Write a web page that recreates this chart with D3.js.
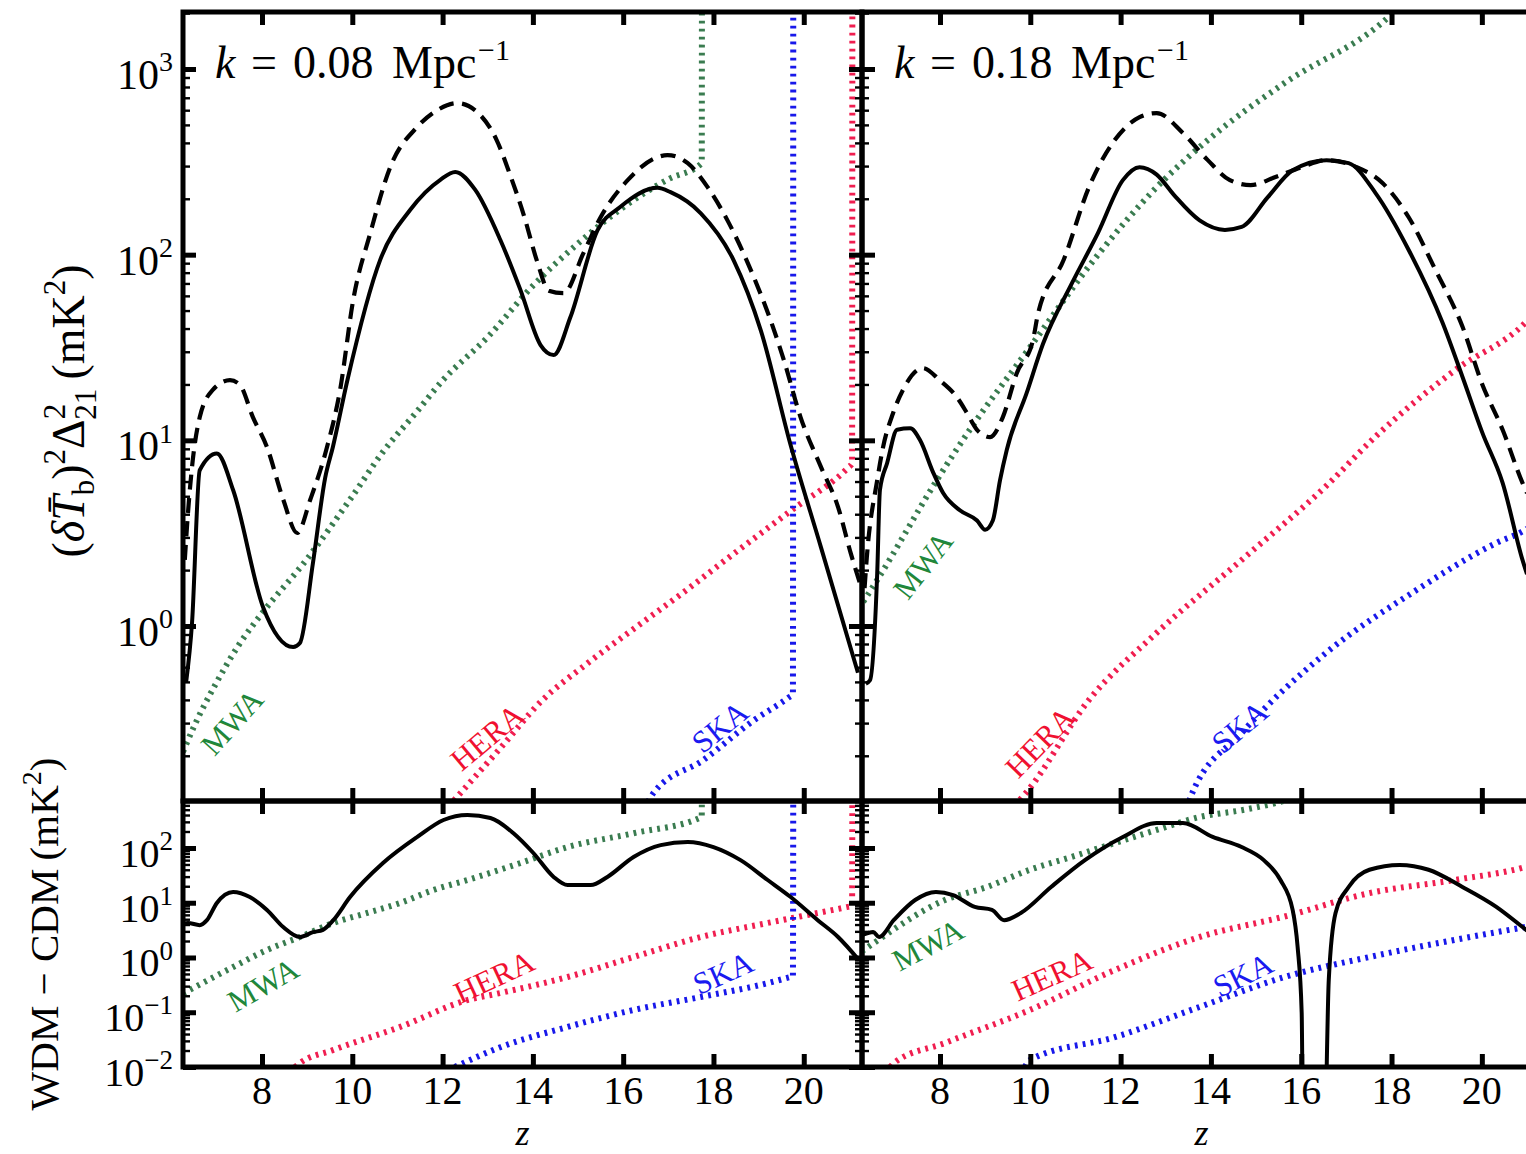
<!DOCTYPE html>
<html><head><meta charset="utf-8">
<script src="https://cdn.jsdelivr.net/npm/d3@7"></script>
<style>
body{margin:0;background:#fff}
svg{display:block}
text{font-family:"Liberation Serif","Times New Roman","DejaVu Serif",serif;fill:#000}
</style>
</head><body>
<svg id="c" width="1526" height="1154" font-family="Liberation Serif, Times New Roman, serif"></svg>
<script>
// ---------------- DATA ([z, value]) ----------------
const xTickValues = [8, 10, 12, 14, 16, 18, 20];
const topExponents = [0, 1, 2, 3];
const bottomExponents = [-2, -1, 0, 1, 2];
const panelTitles = ["0.08", "0.18"];
const instrumentNames = ["MWA", "HERA", "SKA"];

// k = 0.08, upper panel
const leftTopSolid = [[6.32,0.5],[6.45,1.04],[6.62,6.9],[7.0,8.5],[7.36,5.4],[8.02,1.27],[8.69,0.77],[8.84,0.81],[9.13,2.2],[9.40,6.3],[9.57,9.2],[9.89,21],[10.62,94],[11.28,174],[11.95,253],[12.28,279],[12.72,224],[13.28,120],[13.72,65],[14.17,32.6],[14.46,28.8],[14.83,46],[15.43,135],[15.94,181],[16.76,229],[17.05,217],[17.72,167],[18.45,93],[19.05,39],[19.71,9.4],[20.38,2.66],[21.2,0.56]];
const leftTopDashed = [[6.29,2.27],[6.36,4.06],[6.45,7.2],[6.62,13.3],[6.91,18.7],[7.29,21.1],[7.51,19.9],[7.80,13.3],[8.11,9.2],[8.47,4.8],[8.78,3.17],[9.07,4.8],[9.44,9.2],[9.73,18.7],[10.02,57],[10.40,131],[10.84,296],[11.44,488],[11.88,600],[12.33,655],[12.77,585],[13.2,413],[13.5,267],[13.8,163],[14.1,91],[14.35,64],[14.68,62],[15.12,102],[15.50,159],[16.10,252],[16.76,335],[16.98,344],[17.43,311],[17.87,231],[18.31,153],[18.89,76],[19.27,44],[19.56,27],[19.93,13.3],[20.38,7.2],[20.76,4.37],[21.04,2.47],[21.27,1.62]];
const leftTopMWA = [[6.25,0.21],[6.5,0.29],[7.0,0.5],[7.5,0.8],[8.0,1.17],[9.0,2.3],[10.0,5.0],[10.7,8.8],[11.4,14],[12.0,21],[13.0,36],[14.0,68],[15.0,115],[16.0,180],[17.0,255],[17.74,311],[17.75,1e6]];
const leftTopHERA = [[12.25,0.115],[13.28,0.22],[14.17,0.39],[15.21,0.63],[16.32,1.0],[17.43,1.58],[18.3,2.3],[19.71,4.17],[21.0,7.2],[21.07,7.5],[21.08,1e6]];
const leftTopSKA = [[16.55,0.113],[16.67,0.126],[17.78,0.19],[18.89,0.31],[19.65,0.41],[19.76,0.43],[19.77,1e6]];

// k = 0.08, lower panel (WDM - CDM)
const leftBotSolid = [[6.27,4.2],[6.36,4.27],[6.62,3.9],[6.78,4.8],[7.0,9.9],[7.36,15.7],[7.73,12.7],[8.11,7.4],[8.47,3.6],[8.84,2.37],[9.13,2.9],[9.35,3.2],[9.58,4.8],[9.95,12.7],[10.68,53],[11.44,159],[12.02,324],[12.55,400],[13.06,353],[13.57,186],[14.01,81],[14.46,29.6],[14.77,21],[15.28,21],[15.65,29.6],[16.23,68.5],[16.83,113],[17.43,129],[18.0,104],[18.6,60],[19.2,26],[19.71,12.7],[20.31,4.8],[20.76,2.37],[21.22,0.9]];
const leftBotMWA = [[6.25,0.22],[7.36,0.67],[8.11,1.37],[8.84,2.37],[9.58,4.27],[10.33,6.5],[11.06,9.9],[11.79,17],[12.55,26],[13.72,53],[14.77,104],[16.23,186],[17.74,368],[17.75,1e6]];
const leftBotHERA = [[8.73,0.01],[8.84,0.0118],[9.58,0.0205],[11.06,0.054],[12.55,0.167],[13.28,0.225],[14.77,0.44],[16.23,1.02],[17.72,2.37],[19.2,4.27],[20.98,8.4],[21.07,8.7],[21.08,1e6]];
const leftBotSKA = [[12.27,0.01],[13.28,0.023],[14.77,0.054],[16.23,0.11],[17.72,0.19],[19.2,0.34],[19.71,0.44],[19.76,0.45],[19.77,1e6]];

// k = 0.18, upper panel
const rightTopSolid = [[6.36,0.49],[6.45,0.51],[6.61,1.93],[6.67,5.4],[6.83,7.55],[7.05,11.4],[7.34,11.6],[7.56,10],[7.85,6.7],[8.07,5.2],[8.44,4.2],[8.82,3.7],[9.0,3.3],[9.17,3.7],[9.33,6.1],[9.48,8.9],[9.92,18],[10.28,33],[10.92,70],[11.5,131],[12.05,252],[12.42,296],[12.80,270],[13.18,210],[13.75,153],[14.31,136],[14.68,141],[15.26,204],[15.81,285],[16.56,323],[17.05,311],[17.65,214],[18.38,106],[19.13,43],[19.57,22],[20.01,11],[20.46,5.9],[20.90,2.27],[21.0,1.9]];
const rightTopDashed = [[6.33,1.6],[6.38,2.35],[6.61,6.1],[6.74,9.2],[6.96,14],[7.18,18.7],[7.62,24.5],[8.0,21],[8.38,17],[8.6,14],[8.82,11.4],[9.11,10.4],[9.39,13.3],[9.70,23],[10.06,34.7],[10.17,48],[10.74,94],[11.30,231],[11.87,414],[12.42,550],[12.80,579],[13.38,452],[13.93,323],[14.42,252],[14.88,237],[15.43,262],[16.01,296],[16.56,323],[17.23,296],[17.80,243],[18.38,159],[18.97,83],[19.57,41],[20.01,20],[20.46,11.4],[20.90,5.9],[21.0,5.2]];
const rightTopMWA = [[6.3,1.35],[6.61,1.77],[7.93,6.1],[8.66,11.4],[9.92,30],[11.5,100],[12.8,231],[13.93,414],[15.63,840],[17.78,1767],[18.3,2300]];
const rightTopHERA = [[9.77,0.116],[9.90,0.126],[11.30,0.4],[12.80,0.92],[14.68,2.27],[16.56,5.7],[17.65,10.5],[19.42,24],[20.96,43],[21.0,44]];
const rightTopSKA = [[13.52,0.114],[13.55,0.12],[14.68,0.265],[16.56,0.72],[18.44,1.5],[20.32,2.8],[20.96,3.3],[21.0,3.35]];

// k = 0.18, lower panel (WDM - CDM)
const rightBotSolid = [[6.30,2.6],[6.52,2.93],[6.65,2.37],[6.98,4.84],[7.45,11.2],[7.91,15.7],[8.29,13.8],[8.77,8.4],[9.15,7.4],[9.42,4.8],[9.79,6.5],[10.46,19.4],[11.21,60],[12.05,159],[12.80,286],[13.38,286],[14.04,159],[14.68,104],[15.17,60],[15.54,26],[15.81,7.4],[15.92,1.56],[16.01,0.098],[16.05,1e-4],[16.5,1e-4],[16.61,0.39],[16.76,6.5],[17.05,19.4],[17.51,40],[18.18,49],[18.82,40],[19.57,19.4],[20.32,8.4],[20.90,3.6],[21.0,3.1]];
const rightBotMWA = [[6.27,1.3],[6.41,1.56],[8.11,11.2],[9.04,19.4],[9.99,40],[10.92,69],[11.87,123],[12.80,214],[13.75,368],[14.68,490],[15.43,660],[16.2,1000]];
const rightBotHERA = [[6.9,0.01],[6.98,0.0118],[8.11,0.0275],[9.99,0.11],[11.87,0.59],[13.75,2.37],[15.63,5.6],[17.51,15],[19.39,26],[20.96,45],[21.0,46]];
const rightBotSKA = [[9.88,0.01],[9.99,0.0134],[11.87,0.035],[13.75,0.125],[15.63,0.44],[17.51,1.02],[19.39,2.09],[20.96,3.6],[21.0,3.65]];

// instrument label anchors [z, value, angle]
const leftTopLabels = [[7.335,0.304,-48],[12.985,0.252,-40],[18.146,0.286,-39]];
const rightTopLabels = [[7.623,2.13,-52],[10.214,0.237,-46],[14.641,0.286,-40]];
const leftBotLabels = [[8.022,0.315,-30],[13.14,0.44,-25],[18.213,0.52,-24]];
const rightBotLabels = [[7.734,1.69,-28],[10.479,0.48,-24],[14.708,0.48,-26]];

// ---------------- LAYOUT / STYLE ----------------
const FONT = "Liberation Serif, Times New Roman, serif";
const COL = {MWA:"#3a7c50", HERA:"#f01e50", SKA:"#1818ea"};
const LABCOL = {MWA:"#21873a", HERA:"#f01030", SKA:"#1a1af0"};
const svg = d3.select("#c");
svg.append("rect").attr("width",1526).attr("height",1154).attr("fill","#fff");

const cols = [
  {x0:183, x1:862, dom:[6.25,21.29]},
  {x0:862, x1:1541, dom:[6.273,21.31]}
];
const rows = [
  {y0:12, y1:801, dom:[Math.pow(10,-0.9425), Math.pow(10,3.307)], exps:topExponents, tickFont:42, supFont:28, base:20},
  {y0:801, y1:1067, dom:[0.01, Math.pow(10,2.858)], exps:bottomExponents, tickFont:40, supFont:27, base:19}
];

const panels = [
  {c:0,r:0, solid:leftTopSolid, dashed:leftTopDashed, noise:[leftTopMWA,leftTopHERA,leftTopSKA], labels:leftTopLabels},
  {c:1,r:0, solid:rightTopSolid, dashed:rightTopDashed, noise:[rightTopMWA,rightTopHERA,rightTopSKA], labels:rightTopLabels},
  {c:0,r:1, solid:leftBotSolid, dashed:null, noise:[leftBotMWA,leftBotHERA,leftBotSKA], labels:leftBotLabels},
  {c:1,r:1, solid:rightBotSolid, dashed:null, noise:[rightBotMWA,rightBotHERA,rightBotSKA], labels:rightBotLabels}
];

const defs = svg.append("defs");
const txt = (sel)=>sel.append("text").attr("font-family",FONT);

panels.forEach((p,i)=>{
  const C = cols[p.c], R = rows[p.r];
  const x = d3.scaleLinear().domain(C.dom).range([C.x0, C.x1]);
  const y = d3.scaleLog().domain(R.dom).range([R.y1, R.y0]);
  const id = "clip"+i;
  defs.append("clipPath").attr("id",id).append("rect")
    .attr("x",C.x0).attr("y",R.y0).attr("width",C.x1-C.x0).attr("height",R.y1-R.y0);
  const g = svg.append("g");
  const plot = g.append("g").attr("clip-path",`url(#${id})`);

  const line = d3.line().x(d=>x(d[0])).y(d=>y(d[1])).curve(d3.curveMonotoneX);

  p.noise.forEach((arr,k)=>{
    const nm = instrumentNames[k];
    plot.append("path").datum(arr).attr("d",line)
      .attr("fill","none").attr("stroke",COL[nm]).attr("stroke-width",6)
      .attr("stroke-dasharray","2.8 5.2");
  });
  if (p.dashed) plot.append("path").datum(p.dashed).attr("d",line)
      .attr("fill","none").attr("stroke","#000").attr("stroke-width",4.2)
      .attr("stroke-dasharray","15 8.5");
  plot.append("path").datum(p.solid).attr("d",line)
      .attr("fill","none").attr("stroke","#000").attr("stroke-width",4);

  // instrument labels
  p.labels.forEach((L,k)=>{
    const nm = instrumentNames[k];
    txt(g).attr("transform",`translate(${x(L[0])},${y(L[1])}) rotate(${L[2]})`)
      .attr("text-anchor","middle").attr("dominant-baseline","central")
      .attr("font-size",31).style("fill",LABCOL[nm]).text(nm);
  });

  // ticks
  const majors = R.exps.map(e=>Math.pow(10,e));
  const minors = [];
  for (let e=Math.floor(Math.log10(R.dom[0])); e<=Math.ceil(Math.log10(R.dom[1])); e++)
    for (let m=2;m<=9;m++){ const v=m*Math.pow(10,e); if (v>=R.dom[0] && v<=R.dom[1]) minors.push(v); }
  const styleTicks = (sel,w)=>{ sel.select(".domain").remove(); sel.selectAll("line").attr("stroke","#000").attr("stroke-width",w); sel.selectAll("text").remove(); };
  g.append("g").attr("transform",`translate(${C.x0},0)`).call(d3.axisLeft(y).tickValues(majors).tickSize(-13).tickFormat("")).call(s=>styleTicks(s,5));
  g.append("g").attr("transform",`translate(${C.x0},0)`).call(d3.axisLeft(y).tickValues(minors).tickSize(-7).tickFormat("")).call(s=>styleTicks(s,2.4));
  g.append("g").attr("transform",`translate(${C.x1},0)`).call(d3.axisRight(y).tickValues(majors).tickSize(-13).tickFormat("")).call(s=>styleTicks(s,5));
  g.append("g").attr("transform",`translate(${C.x1},0)`).call(d3.axisRight(y).tickValues(minors).tickSize(-7).tickFormat("")).call(s=>styleTicks(s,2.4));
  g.append("g").attr("transform",`translate(0,${R.y0})`).call(d3.axisTop(x).tickValues(xTickValues).tickSize(-13).tickFormat("")).call(s=>styleTicks(s,5));
  g.append("g").attr("transform",`translate(0,${R.y1})`).call(d3.axisBottom(x).tickValues(xTickValues).tickSize(-13).tickFormat("")).call(s=>styleTicks(s,5));

  // frame
  g.append("rect").attr("x",C.x0).attr("y",R.y0).attr("width",C.x1-C.x0).attr("height",R.y1-R.y0)
    .attr("fill","none").attr("stroke","#000").attr("stroke-width",5);

  // y tick labels on left column
  if (p.c===0){
    R.exps.forEach(e=>{
      const t = txt(g).attr("x",C.x0-10).attr("y",y(Math.pow(10,e))+R.base)
        .attr("text-anchor","end").attr("font-size",R.tickFont);
      t.append("tspan").text("10");
      t.append("tspan").attr("dy",-R.tickFont*0.42).attr("font-size",R.supFont).text(e<0?"\u2212"+(-e):String(e));
    });
  }
  // x tick labels on bottom row
  if (p.r===1){
    xTickValues.forEach(v=>{
      txt(g).attr("x",x(v)).attr("y",1104).attr("text-anchor","middle").attr("font-size",40).text(v);
    });
    txt(g).attr("x",(C.x0+C.x1)/2).attr("y",1145)
      .attr("text-anchor","middle").attr("font-size",36).attr("font-style","italic").text("z");
  }
  // panel title
  if (p.r===0){
    const t = txt(g).attr("y",78).attr("font-size",46);
    t.append("tspan").attr("x",C.x0+32).attr("font-style","italic").text("k");
    t.append("tspan").attr("x",C.x0+68).text("=");
    t.append("tspan").attr("x",C.x0+110).text(panelTitles[p.c]);
    t.append("tspan").attr("x",C.x0+209).text("Mpc");
    t.append("tspan").attr("x",C.x0+295).attr("dy",-18).attr("font-size",30).text("\u22121");
  }
});

// y axis titles
const yl = txt(svg).attr("transform","translate(84,411) rotate(-90)")
  .attr("text-anchor","middle").attr("font-size",46);
yl.append("tspan").text("(");
yl.append("tspan").attr("font-style","italic").text("\u03B4T\u0304");
yl.append("tspan").attr("dy",10).attr("font-size",31).text("b");
yl.append("tspan").attr("dy",-10).text(")");
yl.append("tspan").attr("dy",-19).attr("font-size",31).text("2");
yl.append("tspan").attr("dy",19).text("\u0394");
yl.append("tspan").attr("dy",-19).attr("font-size",31).text("2");
yl.append("tspan").attr("dx",-16).attr("dy",31).attr("font-size",31).text("21");
yl.append("tspan").attr("dy",-12).text("\u2009(mK");
yl.append("tspan").attr("dy",-19).attr("font-size",31).text("2");
yl.append("tspan").attr("dy",19).text(")");

const yl2 = txt(svg).attr("transform","translate(58,934) rotate(-90)")
  .attr("text-anchor","middle").attr("font-size",41);
yl2.append("tspan").text("WDM \u2212 CDM\u2009(mK");
yl2.append("tspan").attr("dy",-17).attr("font-size",28).text("2");
yl2.append("tspan").attr("dy",17).text(")");
</script>
</body></html>
